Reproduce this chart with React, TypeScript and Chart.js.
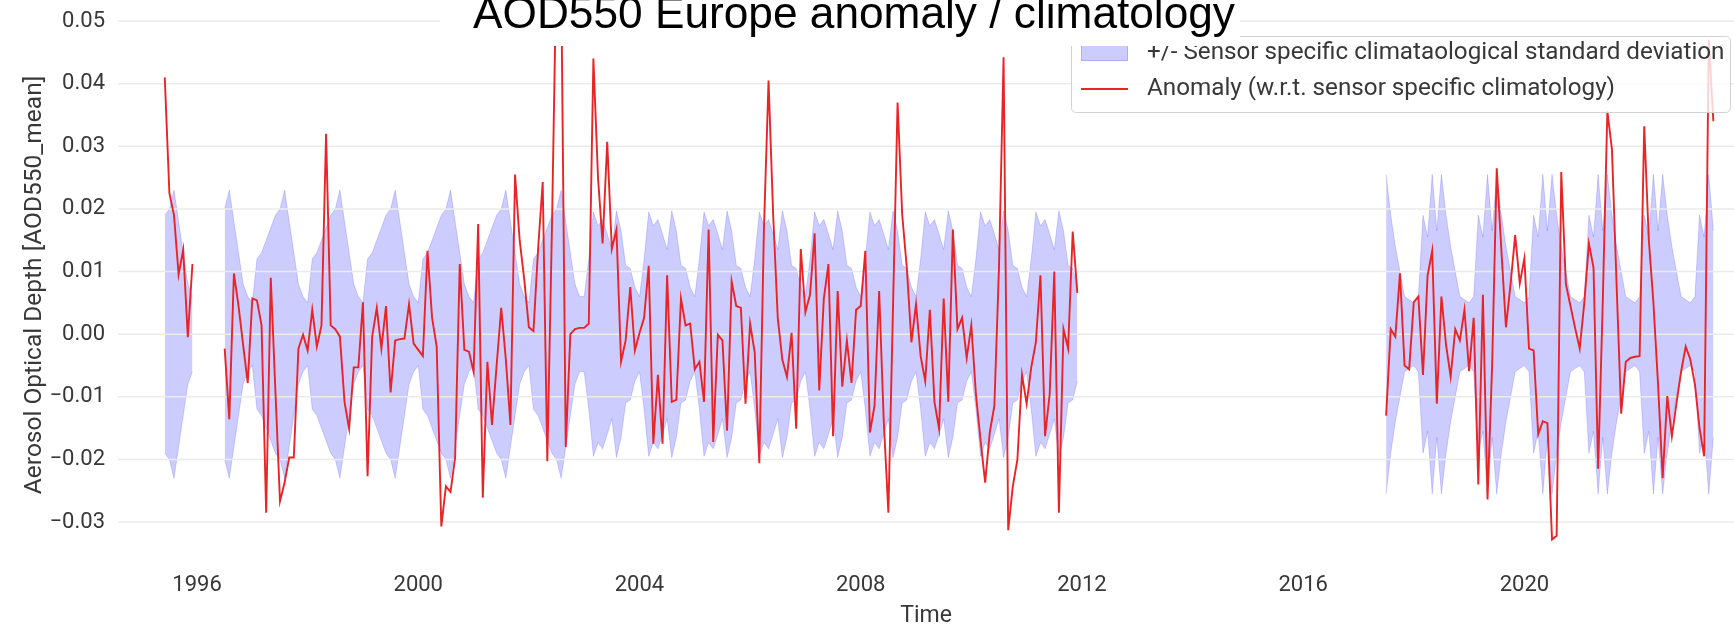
import React, { useEffect, useRef } from 'react';
import { Chart, registerables } from 'chart.js';

Chart.register(...registerables);

const TITLE = 'AOD550 Europe anomaly / climatology';
const Y_TITLE = 'Aerosol Optical Depth [AOD550_mean]';
const X_TITLE = 'Time';
const LEGEND_BAND = '+/- Sensor specific climataological standard deviation';
const LEGEND_LINE = 'Anomaly (w.r.t. sensor specific climatology)';

const X_TICKS = [1996, 2000, 2004, 2008, 2012, 2016, 2020];
const Y_TICKS = [-0.03, -0.02, -0.01, 0, 0.01, 0.02, 0.03, 0.04, 0.05];

// Monthly anomaly values (AOD550)
const ANOM_1995 = [0.041, 0.0225, 0.019, 0.0095, 0.0135, -0.0005, 0.0112]; // Jun–Dec 1995

const ANOM_1996_1998 = [ // Jul 1996 – Dec 1998
  -0.0023, -0.0136, 0.0097, 0.0045, -0.0017, -0.0078,
  0.0057, 0.0054, 0.0014, -0.0285, 0.009, -0.009, -0.0267, -0.0237, -0.0197, -0.0197, -0.0023, -0.0001,
  -0.0026, 0.0039, -0.002, 0.0014, 0.032, 0.0014, 0.0008, -0.0004, -0.0108, -0.0151, -0.0053, -0.0053,
];

const ANOM_1999_2003 = [ // Jan 1999 – Jun 2003
  0.0051, -0.0227, -0.0004, 0.0042, -0.0023, 0.0045, -0.0093, -0.001, -0.0008, -0.0007, 0.0048, -0.0015,
  -0.0025, -0.0035, 0.0133, 0.0026, -0.002, -0.0307, -0.0243, -0.0252, -0.0197, 0.0112, -0.0025, -0.0028,
  -0.006, 0.0176, -0.0261, -0.0044, -0.0145, -0.005, 0.0042, -0.004, -0.0145, 0.0255, 0.015, 0.0087,
  0.0011, 0.0005, 0.0136, 0.0243, -0.0203, 0.0167, 0.06, 0.058, -0.018, 0.0, 0.0008, 0.001,
  0.001, 0.0017, 0.044, 0.025, 0.0145, 0.0307,
];

const ANOM_2003_2007 = [ // Jul 2003 – Dec 2007
  0.0136, 0.0167, -0.0044, -0.001, 0.0075, -0.0026,
  0.0002, 0.0026, 0.0109, -0.0175, -0.0065, -0.0175, 0.0094, -0.0108, -0.0105, 0.0057, 0.0014, 0.0017,
  -0.0056, -0.0044, -0.0108, 0.0167, -0.0172, -0.0001, -0.001, -0.0154, 0.0084, 0.0045, 0.0042, -0.0111,
  0.0017, -0.0029, -0.0206, 0.0167, 0.0405, 0.0191, 0.0026, -0.0041, -0.0068, 0.0002, -0.0151, 0.0136,
  0.0035, 0.0063, 0.0161, -0.009, 0.0057, 0.0112, -0.0163, 0.0069, -0.0084, -0.001, -0.0078, 0.0039,
];

const ANOM_2008_2011 = [ // Jan 2008 – Dec 2011
  0.0045, 0.0133, -0.0157, -0.0114, 0.0069, -0.0139, -0.0285, 0.004, 0.037, 0.0191, 0.0106, -0.0013,
  0.0048, -0.0035, -0.0075, 0.0039, -0.0108, -0.0151, 0.0057, -0.0108, 0.0167, 0.0008, 0.0026, -0.0038,
  0.0014, -0.0096, -0.0169, -0.0237, -0.0157, -0.0114, 0.0106, 0.0442, -0.0313, -0.0243, -0.02, -0.0065,
  -0.0111, -0.0053, -0.0013, 0.0094, -0.0163, -0.0096, 0.01, -0.0285, 0.0008, -0.0023, 0.0164, 0.0066,
];

const ANOM_2017_2020 = [ // Jul 2017 – Jun 2020
  -0.013, 0.0008, -0.0004, 0.0097, -0.005, -0.0056,
  0.0051, 0.006, -0.0065, 0.0094, 0.0133, -0.0111, 0.006, -0.0017, -0.0068, 0.0008, -0.001, 0.0039,
  -0.0059, 0.0026, -0.024, 0.0063, -0.0264, -0.005, 0.0265, 0.0135, 0.0011, 0.008, 0.0158, 0.0081,
  0.0121, -0.0023, -0.0026, -0.016, -0.0139, -0.0142,
];

const ANOM_2020_2023 = [ // Jul 2020 – Jun 2023
  -0.0328, -0.0322, 0.0259, 0.008, 0.0045, 0.001,
  -0.0023, 0.005, 0.0145, 0.0106, -0.0215, 0.005, 0.0356, 0.0295, 0.008, -0.0127, -0.0044, -0.0038,
  -0.0036, -0.0035, 0.0332, 0.015, 0.005, -0.008, -0.023, -0.0099, -0.0163, -0.011, -0.006, -0.002,
  -0.004, -0.008, -0.015, -0.0195, 0.047, 0.034,
];

// Sensor specific climatological standard deviation, Jan..Dec
const STD_SENSOR_A = [0.005, 0.012, 0.013, 0.015, 0.017, 0.019, 0.02, 0.023, 0.018, 0.013, 0.008, 0.006]; // 1995–2002
const STD_SENSOR_B = [0.006, 0.012, 0.0195, 0.0173, 0.0183, 0.016, 0.0135, 0.0197, 0.0165, 0.011, 0.0105, 0.0075]; // 2003–2011
const STD_SENSOR_C = [0.005, 0.006, 0.019, 0.0155, 0.0255, 0.0165, 0.0255, 0.019, 0.014, 0.01, 0.006, 0.0055]; // 2017–2023

const BLOCKS = [
  { start: [1995, 6], values: ANOM_1995 },
  { start: [1996, 7], values: [...ANOM_1996_1998, ...ANOM_1999_2003, ...ANOM_2003_2007, ...ANOM_2008_2011] },
  { start: [2017, 7], values: [...ANOM_2017_2020, ...ANOM_2020_2023] },
];

const X_MIN = 1994.571;
const X_MAX = 2023.79;
const Y_MIN = -0.0355;
const Y_MAX = 0.0512;

const RED = 'rgb(232,36,36)';
const BAND_FILL = 'rgba(0,0,255,0.2)';
const BAND_EDGE = 'rgba(0,0,255,0.16)';
const GRID = '#ebebeb';
const TEXT = '#383838';

function stdFor(year: number, month: number) {
  if (year <= 2002) return STD_SENSOR_A[month - 1];
  if (year <= 2011) return STD_SENSOR_B[month - 1];
  return STD_SENSOR_C[month - 1];
}

function buildSeries() {
  const anom: any[] = [];
  const upper: any[] = [];
  const lower: any[] = [];
  BLOCKS.forEach((b, bi) => {
    if (bi > 0) {
      const last = anom[anom.length - 1].x + 1 / 24;
      anom.push({ x: last, y: null });
      upper.push({ x: last, y: null });
      lower.push({ x: last, y: null });
    }
    let yr = b.start[0];
    let mo = b.start[1];
    b.values.forEach((v) => {
      const x = yr + (mo - 1) / 12;
      const s = stdFor(yr, mo);
      anom.push({ x, y: v });
      upper.push({ x, y: s });
      lower.push({ x, y: -s });
      mo += 1;
      if (mo > 12) { mo = 1; yr += 1; }
    });
  });
  return { anom, upper, lower };
}

function fmtY(v: number) {
  if (Math.abs(v) < 1e-9) return '0.00';
  return (v < 0 ? '\u2212' : '') + Math.abs(v).toFixed(2);
}

const gridPlugin = {
  id: 'gridOverBand',
  beforeDatasetDraw(chart: any, args: any) {
    if (args.index !== 0) return;
    const { ctx, chartArea, scales } = chart;
    ctx.save();
    ctx.strokeStyle = GRID;
    ctx.lineWidth = 1.5;
    for (const t of scales.y.ticks) {
      const y = scales.y.getPixelForValue(t.value);
      ctx.beginPath();
      ctx.moveTo(chartArea.left, y);
      ctx.lineTo(chartArea.right, y);
      ctx.stroke();
    }
    ctx.restore();
  },
};

function rr(ctx: CanvasRenderingContext2D, x: number, y: number, w: number, h: number, r: number) {
  ctx.beginPath();
  ctx.moveTo(x + r, y);
  ctx.lineTo(x + w - r, y);
  ctx.quadraticCurveTo(x + w, y, x + w, y + r);
  ctx.lineTo(x + w, y + h - r);
  ctx.quadraticCurveTo(x + w, y + h, x + w - r, y + h);
  ctx.lineTo(x + r, y + h);
  ctx.quadraticCurveTo(x, y + h, x, y + h - r);
  ctx.lineTo(x, y + r);
  ctx.quadraticCurveTo(x, y, x + r, y);
  ctx.closePath();
}

const overlayPlugin = {
  id: 'legendAndTitle',
  afterDraw(chart: any) {
    const ctx: CanvasRenderingContext2D = chart.ctx;
    ctx.save();
    // legend frame
    rr(ctx, 1071.5, 36.5, 659, 76, 5);
    ctx.fillStyle = 'rgba(255,255,255,0.8)';
    ctx.fill();
    ctx.strokeStyle = '#d2d2d2';
    ctx.lineWidth = 1;
    ctx.stroke();
    // legend handles
    ctx.fillStyle = BAND_FILL;
    ctx.fillRect(1081, 45, 47, 16);
    ctx.strokeStyle = BAND_EDGE;
    ctx.strokeRect(1081.5, 45.5, 46, 15);
    ctx.strokeStyle = RED;
    ctx.lineWidth = 1.9;
    ctx.beginPath();
    ctx.moveTo(1081, 89);
    ctx.lineTo(1128, 89);
    ctx.stroke();
    // legend texts
    ctx.font = '24px Roboto';
    const w24 = ctx.measureText(LEGEND_LINE).width;
    const ls = (24 * 468) / w24;
    ctx.font = `${ls.toFixed(2)}px Roboto`;
    ctx.fillStyle = TEXT;
    ctx.textAlign = 'left';
    ctx.textBaseline = 'middle';
    ctx.fillText(LEGEND_BAND, 1147, 53);
    ctx.fillText(LEGEND_LINE, 1147, 89);
    // title box
    ctx.fillStyle = '#ffffff';
    ctx.fillRect(440, 0, 800, 46);
    ctx.font = '44px "Liberation Sans", Arial, sans-serif';
    const wt = ctx.measureText(TITLE).width;
    const ts = (44 * 762) / wt;
    ctx.font = `${ts.toFixed(2)}px "Liberation Sans", Arial, sans-serif`;
    ctx.fillStyle = '#000000';
    ctx.textAlign = 'center';
    ctx.textBaseline = 'alphabetic';
    ctx.fillText(TITLE, 854, 28);
    ctx.restore();
  },
};

export default function App() {
  const ref = useRef<HTMLCanvasElement | null>(null);

  useEffect(() => {
    if (!ref.current) return;
    const { anom, upper, lower } = buildSeries();
    const tickFont = { family: 'Roboto', size: 22 };
    const chart = new Chart(ref.current, {
      type: 'line',
      data: {
        datasets: [
          {
            label: LEGEND_LINE,
            data: anom,
            borderColor: RED,
            borderWidth: 1.9,
            pointRadius: 0,
            fill: false,
            tension: 0,
            spanGaps: false,
            order: 0,
          },
          {
            label: LEGEND_BAND,
            data: upper,
            borderColor: BAND_EDGE,
            backgroundColor: BAND_FILL,
            borderWidth: 1,
            pointRadius: 0,
            fill: '+1',
            tension: 0,
            spanGaps: false,
            order: 1,
          },
          {
            label: 'lower',
            data: lower,
            borderColor: BAND_EDGE,
            borderWidth: 1,
            pointRadius: 0,
            fill: false,
            tension: 0,
            spanGaps: false,
            order: 2,
          },
        ],
      } as any,
      options: {
        animation: false,
        responsive: false,
        devicePixelRatio: 1,
        layout: { padding: { top: 13.5, left: 0, right: 0, bottom: 0 } },
        plugins: {
          legend: { display: false },
          tooltip: { enabled: false },
          title: { display: false },
        },
        scales: {
          x: {
            type: 'linear',
            min: X_MIN,
            max: X_MAX,
            grid: { display: false, drawTicks: false },
            border: { display: false },
            ticks: {
              font: tickFont,
              color: TEXT,
              padding: 16,
              maxRotation: 0,
              autoSkip: false,
              callback: (v: any) => String(v),
            },
            afterBuildTicks: (s: any) => { s.ticks = X_TICKS.map((v) => ({ value: v })); },
            afterFit: (s: any) => { s.height = 68.5; s.paddingLeft = 0; s.paddingRight = 0; },
            title: { display: true, text: X_TITLE, color: TEXT, font: { family: 'Roboto', size: 23 }, padding: { top: 0, bottom: -5 } },
          },
          y: {
            type: 'linear',
            min: Y_MIN,
            max: Y_MAX,
            grid: { display: false, drawTicks: false },
            border: { display: false },
            ticks: {
              font: tickFont,
              color: TEXT,
              padding: 13,
              autoSkip: false,
              callback: (v: any) => fmtY(Number(v)),
            },
            afterBuildTicks: (s: any) => { s.ticks = Y_TICKS.map((v) => ({ value: v })); },
            afterFit: (s: any) => { s.width = 118; s.paddingTop = 0; s.paddingBottom = 0; },
            title: { display: true, text: Y_TITLE, color: TEXT, font: { family: 'Roboto', size: 24.5 }, padding: { top: 20, bottom: 0 } },
          },
        },
      } as any,
      plugins: [gridPlugin, overlayPlugin],
    });
    return () => chart.destroy();
  }, []);

  return (
    <div style={{ position: 'fixed', left: 0, top: 0, width: 1734, height: 625, background: '#ffffff' }}>
      <canvas ref={ref} width={1734} height={625} style={{ width: 1734, height: 625, display: 'block' }} />
    </div>
  );
}
